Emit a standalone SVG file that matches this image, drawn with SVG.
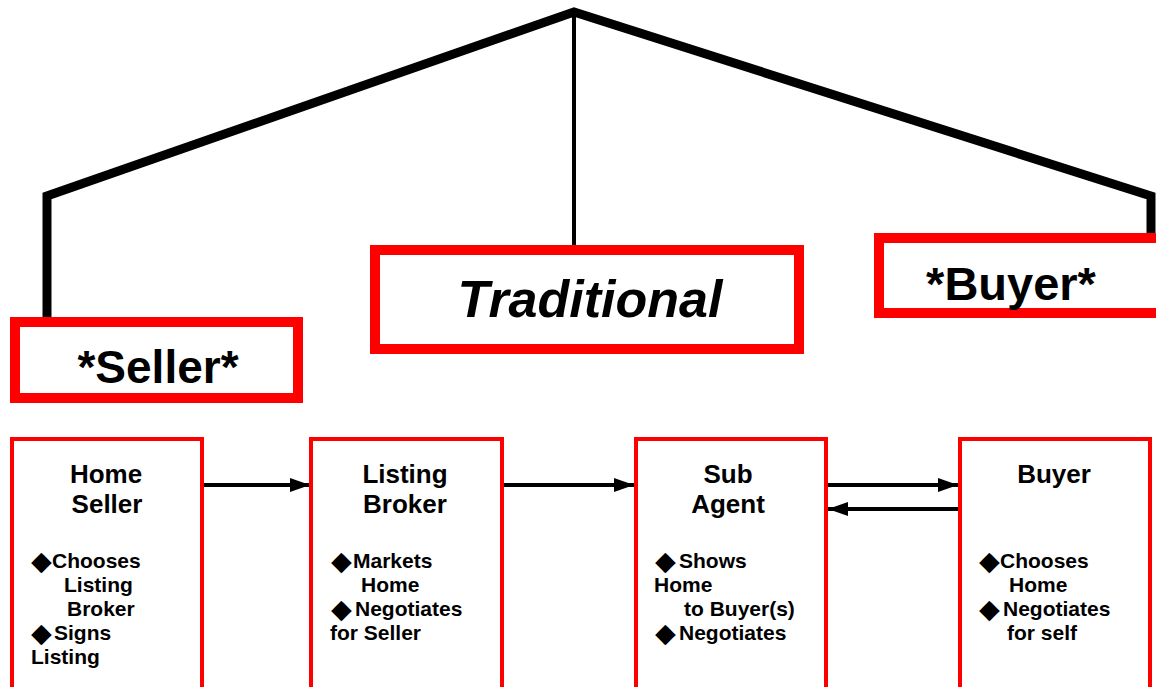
<svg xmlns="http://www.w3.org/2000/svg" width="1156" height="687" viewBox="0 0 1156 687">
<style>
.big{fill:#fff;stroke:#ff0000;stroke-width:10}
.box{fill:#fff;stroke:#ff0000;stroke-width:4}
.t{font-family:"Liberation Sans",Arial,sans-serif;font-weight:bold;fill:#000}
.title{font-size:46px;text-anchor:middle}
.head{font-size:26px;text-anchor:middle}
.b{font-size:21px}
.d{font-family:"DejaVu Sans",sans-serif;font-size:27px;fill:#000}
.con{stroke:#000;stroke-width:4;fill:none}
</style>
<defs>
<marker id="ah" markerUnits="userSpaceOnUse" markerWidth="22" markerHeight="14" refX="20" refY="7" orient="auto">
<polygon points="0,0 20,7 0,14" fill="#000"/>
</marker>
</defs>
<rect width="1156" height="687" fill="#fff"/>
<g id="roof">
<polyline points="47,317 47,196 574,12 1151,196 1151,234" fill="none" stroke="#000" stroke-width="9" stroke-linejoin="miter"/>
<line x1="574" y1="8" x2="574" y2="246" stroke="#000" stroke-width="4"/>
</g>
<g id="seller-title">
<rect class="big" x="15" y="322" width="283" height="76"/>
<text class="t title" x="158" y="383">*Seller*</text>
</g>
<g id="traditional-title">
<rect class="big" x="375" y="250" width="424" height="99"/>
<text class="t" x="590" y="317" font-size="52" font-style="italic" text-anchor="middle">Traditional</text>
</g>
<g id="buyer-title">
<rect class="big" x="879" y="238" width="300" height="75"/>
<text class="t" x="1011" y="300" font-size="47" text-anchor="middle">*Buyer*</text>
</g>
<g id="connectors">
<line class="con" x1="202" y1="485" x2="310" y2="485" marker-end="url(#ah)"/>
<line class="con" x1="502" y1="485" x2="634" y2="485" marker-end="url(#ah)"/>
<line class="con" x1="826" y1="485" x2="958" y2="485" marker-end="url(#ah)"/>
<line class="con" x1="958" y1="509" x2="828" y2="509" marker-end="url(#ah)"/>
</g>
<g id="home-seller">
<rect class="box" x="12" y="439" width="190" height="300"/>
<text class="t head" x="106" y="483">Home</text>
<text class="t head" x="107" y="513">Seller</text>
<text class="d" x="31" y="570">◆</text>
<text class="t b" x="52" y="568">Chooses</text>
<text class="t b" x="64" y="592">Listing</text>
<text class="t b" x="67" y="616">Broker</text>
<text class="d" x="31" y="642">◆</text>
<text class="t b" x="54" y="640">Signs</text>
<text class="t b" x="31" y="664">Listing</text>
</g>
<g id="listing-broker">
<rect class="box" x="311" y="439" width="191" height="300"/>
<text class="t head" x="405" y="483">Listing</text>
<text class="t head" x="405" y="513">Broker</text>
<text class="d" x="331" y="570">◆</text>
<text class="t b" x="353" y="568">Markets</text>
<text class="t b" x="361" y="592">Home</text>
<text class="d" x="331" y="618">◆</text>
<text class="t b" x="355" y="616">Negotiates</text>
<text class="t b" x="330" y="640">for Seller</text>
</g>
<g id="sub-agent">
<rect class="box" x="636" y="439" width="190" height="300"/>
<text class="t head" x="728" y="483">Sub</text>
<text class="t head" x="728" y="513">Agent</text>
<text class="d" x="655" y="570">◆</text>
<text class="t b" x="679" y="568">Shows</text>
<text class="t b" x="654" y="592">Home</text>
<text class="t b" x="684" y="616">to Buyer(s)</text>
<text class="d" x="655" y="642">◆</text>
<text class="t b" x="679" y="640">Negotiates</text>
</g>
<g id="buyer">
<rect class="box" x="960" y="439" width="190" height="300"/>
<text class="t head" x="1054" y="483">Buyer</text>
<text class="d" x="979" y="570">◆</text>
<text class="t b" x="1000" y="568">Chooses</text>
<text class="t b" x="1009" y="592">Home</text>
<text class="d" x="979" y="618">◆</text>
<text class="t b" x="1003" y="616">Negotiates</text>
<text class="t b" x="1007" y="640">for self</text>
</g>
</svg>
